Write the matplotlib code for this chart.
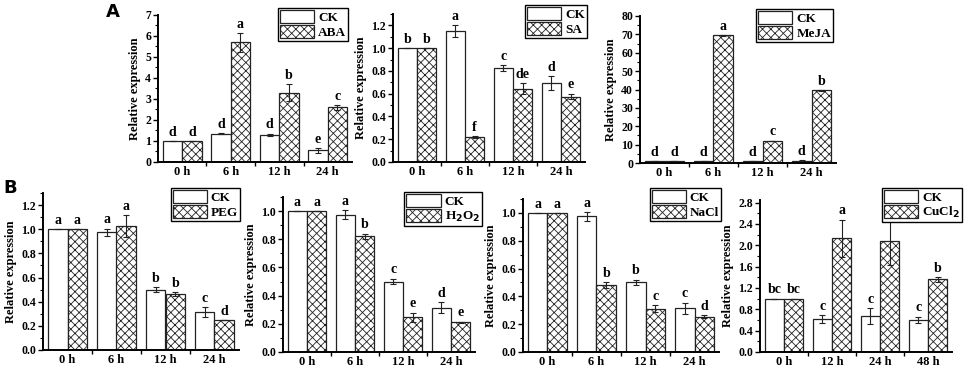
# Relative expression under hormone (A) and stress (B) treatments
import matplotlib.pyplot as plt
import numpy as np

plt.rcParams['font.family'] = ['Liberation Serif', 'DejaVu Serif']
plt.rcParams['font.weight'] = 'bold'
plt.rcParams['hatch.linewidth'] = 0.6
plt.rcParams['hatch.color'] = 'black'

times_a = ['0 h', '6 h', '12 h', '24 h']
times_cu = ['0 h', '12 h', '24 h', '48 h']

# panel A
aba_ck = [1.0, 1.35, 1.3, 0.55]
aba_ck_err = [0, 0.03, 0.05, 0.12]
aba_tr = [1.0, 5.7, 3.3, 2.6]
aba_tr_err = [0, 0.45, 0.4, 0.12]
aba_ck_let = ['d', 'd', 'd', 'e']
aba_tr_let = ['d', 'a', 'b', 'c']

sa_ck = [1.0, 1.15, 0.825, 0.695]
sa_ck_err = [0, 0.055, 0.025, 0.06]
sa_tr = [1.0, 0.22, 0.645, 0.575]
sa_tr_err = [0, 0.01, 0.05, 0.025]
sa_ck_let = ['b', 'a', 'c', 'd']
sa_tr_let = ['b', 'f', 'de', 'e']

meja_ck = [1.0, 1.0, 1.0, 1.0]
meja_ck_err = [0, 0, 0, 0.4]
meja_tr = [1.0, 69.5, 12.0, 39.5]
meja_tr_err = [0, 0.3, 0.2, 0.3]
meja_ck_let = ['d', 'd', 'd', 'd']
meja_tr_let = ['d', 'a', 'c', 'b']

# panel B
peg_ck = [1.0, 0.975, 0.5, 0.315]
peg_ck_err = [0, 0.03, 0.02, 0.04]
peg_tr = [1.0, 1.025, 0.465, 0.245]
peg_tr_err = [0, 0.09, 0.015, 0.0]
peg_ck_let = ['a', 'a', 'b', 'c']
peg_tr_let = ['a', 'a', 'b', 'd']

h2o2_ck = [1.0, 0.975, 0.5, 0.315]
h2o2_ck_err = [0, 0.03, 0.02, 0.04]
h2o2_tr = [1.0, 0.82, 0.245, 0.21]
h2o2_tr_err = [0, 0.02, 0.035, 0.005]
h2o2_ck_let = ['a', 'a', 'c', 'd']
h2o2_tr_let = ['a', 'b', 'e', 'e']

nacl_ck = [1.0, 0.975, 0.5, 0.315]
nacl_ck_err = [0, 0.03, 0.02, 0.04]
nacl_tr = [1.0, 0.48, 0.31, 0.255]
nacl_tr_err = [0, 0.02, 0.025, 0.01]
nacl_ck_let = ['a', 'a', 'b', 'c']
nacl_tr_let = ['a', 'b', 'c', 'd']

cu_ck = [1.0, 0.615, 0.675, 0.605]
cu_ck_err = [0, 0.08, 0.15, 0.06]
cu_tr = [1.0, 2.13, 2.08, 1.36]
cu_tr_err = [0, 0.35, 0.45, 0.05]
cu_ck_let = ['bc', 'c', 'c', 'c']
cu_tr_let = ['bc', 'a', 'a', 'b']


def panel(fig, rect, times, ck, ck_err, tr, tr_err, ck_let, tr_let,
          name, ymax, major, minor, fmt, leg_xy):
    ax = fig.add_axes(rect)
    x = np.arange(len(times))
    w = 0.4
    ax.bar(x - w / 2, ck, w, color='white', edgecolor='#222222', linewidth=0.9, label='CK')
    ax.bar(x + w / 2, tr, w, color='white', edgecolor='#222222', linewidth=0.9,
           hatch='xxxx', label=name)
    ax.errorbar(x - w / 2, ck, yerr=ck_err, fmt='none', ecolor='#222222',
                elinewidth=0.8, capsize=2.5, capthick=0.8)
    ax.errorbar(x + w / 2, tr, yerr=tr_err, fmt='none', ecolor='#222222',
                elinewidth=0.8, capsize=2.5, capthick=0.8)
    pad = ymax * 0.015
    for i in range(len(times)):
        ax.text(x[i] - w / 2, ck[i] + ck_err[i] + pad, ck_let[i], ha='center',
                va='bottom', fontsize=10, fontweight='bold')
        ax.text(x[i] + w / 2, tr[i] + tr_err[i] + pad, tr_let[i], ha='center',
                va='bottom', fontsize=10, fontweight='bold')
    ax.set_xlim(-0.5, len(times) - 0.5)
    ax.set_ylim(0, ymax)
    ax.set_xticks(x)
    ax.set_xticklabels(times)
    ax.set_xticks(np.arange(0.5, len(times) - 0.5, 1), minor=True)
    ax.tick_params(axis='x', which='major', length=0, pad=3, labelsize=9)
    ax.tick_params(axis='x', which='minor', length=3, width=1)
    yt = np.arange(0, ymax + 1e-9, major)
    ax.set_yticks(yt)
    ax.set_yticklabels([fmt.format(v) for v in yt])
    ax.set_yticks(np.arange(0, ymax + 1e-9, minor), minor=True)
    ax.tick_params(axis='y', which='major', length=3.5, width=1, labelsize=8.5, pad=1.5)
    ax.tick_params(axis='y', which='minor', length=2, width=0.8)
    for s in ['top', 'right']:
        ax.spines[s].set_visible(False)
    for s in ['left', 'bottom']:
        ax.spines[s].set_linewidth(1.4)
    ax.set_ylabel('Relative expression', fontsize=9, fontweight='bold', labelpad=3)
    for lab in ax.get_xticklabels() + ax.get_yticklabels():
        lab.set_fontweight('bold')
    fig.legend(handles=ax.containers[:2], labels=['CK', name], loc='upper right',
               bbox_to_anchor=leg_xy, fancybox=False, edgecolor='black',
               framealpha=1, handlelength=2.6, handleheight=1.1,
               labelspacing=0.1, borderpad=0.15, handletextpad=0.3,
               borderaxespad=0, prop={'family': 'Liberation Serif',
                                      'weight': 'bold', 'size': 9.5})
    return ax


W, H = 970, 369
fig = plt.figure(figsize=(W / 100, H / 100), dpi=100)


def r(x0, x1, ytop, ybot):
    return [x0 / W, 1 - ybot / H, (x1 - x0) / W, (ybot - ytop) / H]


panel(fig, r(158, 352, 15, 162), times_a, aba_ck, aba_ck_err, aba_tr, aba_tr_err,
      aba_ck_let, aba_tr_let, 'ABA', 7, 1, 0.5, '{:.0f}', (348 / W, 1 - 8 / H))
panel(fig, r(393, 585, 14, 162), times_a, sa_ck, sa_ck_err, sa_tr, sa_tr_err,
      sa_ck_let, sa_tr_let, 'SA', 1.3, 0.2, 0.1, '{:.1f}', (587 / W, 1 - 5 / H))
panel(fig, r(640, 836, 16, 163), times_a, meja_ck, meja_ck_err, meja_tr, meja_tr_err,
      meja_ck_let, meja_tr_let, 'MeJA', 80, 10, 5, '{:.0f}', (833 / W, 1 - 9 / H))

panel(fig, r(43, 239, 193, 350), times_a, peg_ck, peg_ck_err, peg_tr, peg_tr_err,
      peg_ck_let, peg_tr_let, 'PEG', 1.3, 0.2, 0.1, '{:.1f}', (240 / W, 1 - 188 / H))
panel(fig, r(283, 475, 197, 352), times_a, h2o2_ck, h2o2_ck_err, h2o2_tr, h2o2_tr_err,
      h2o2_ck_let, h2o2_tr_let, 'H$_2$O$_2$', 1.1, 0.2, 0.1, '{:.1f}', (482 / W, 1 - 192 / H))
panel(fig, r(523, 719, 199, 352), times_a, nacl_ck, nacl_ck_err, nacl_tr, nacl_tr_err,
      nacl_ck_let, nacl_tr_let, 'NaCl', 1.1, 0.2, 0.1, '{:.1f}', (721 / W, 1 - 188 / H))
panel(fig, r(760, 952, 200, 352), times_cu, cu_ck, cu_ck_err, cu_tr, cu_tr_err,
      cu_ck_let, cu_tr_let, 'CuCl$_2$', 2.85, 0.4, 0.2, '{:.1f}', (962 / W, 1 - 188 / H))

fig.text(113 / W, 1 - 12 / H, 'A', fontsize=13, fontweight='bold',
         family='DejaVu Sans', ha='center', va='center')
fig.text(10 / W, 1 - 188 / H, 'B', fontsize=13, fontweight='bold',
         family='DejaVu Sans', ha='center', va='center')

fig.savefig('out.png', dpi=100)
